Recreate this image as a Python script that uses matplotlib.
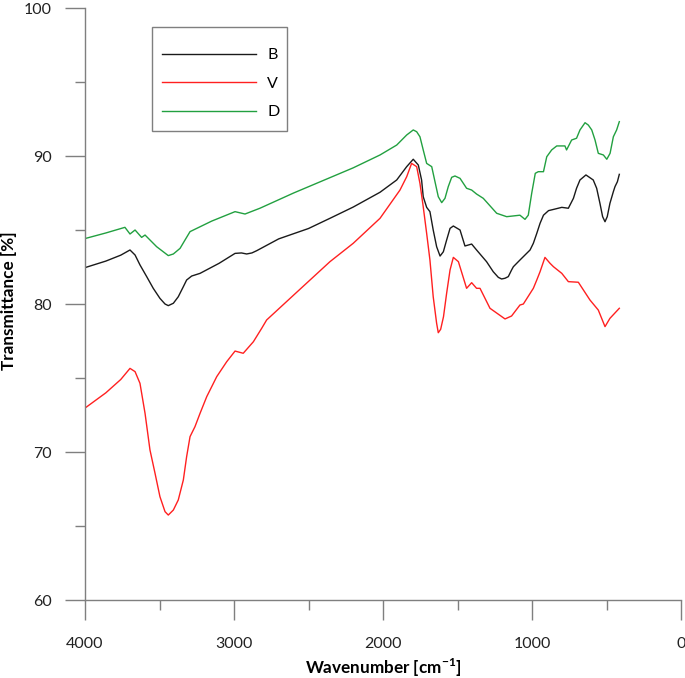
import matplotlib
matplotlib.use("Agg")
import matplotlib.pyplot as plt
from matplotlib.patches import Rectangle
from matplotlib.ticker import MultipleLocator

plt.rcParams['font.family'] = ['Lato', 'DejaVu Sans']

# ---- data ----
wn_B = [4000, 3993, 3860, 3760, 3698, 3664, 3631, 3586, 3542, 3497, 3463, 3441, 3407, 3374, 3340,
        3318, 3284, 3228, 3100, 2993, 2950, 2915, 2880, 2848, 2700, 2500, 2356, 2200, 2020,
        1908, 1841, 1797, 1763, 1741, 1730, 1707, 1685, 1663, 1640, 1617, 1595, 1573, 1550,
        1528, 1483, 1450, 1405, 1372, 1305, 1260, 1226, 1204, 1181, 1159, 1137, 1125, 1081,
        1047, 1013, 991, 968, 946, 923, 889, 856, 800, 756, 722, 701, 678, 638, 589, 566,
        544, 526, 510, 495, 477, 454, 443, 427, 414]
T_B = [82.43, 82.48, 82.9, 83.3, 83.65, 83.31, 82.64, 81.85, 81.06, 80.38, 80.0, 79.89, 80.05, 80.49, 81.17,
       81.62, 81.89, 82.07, 82.75, 83.42, 83.45, 83.38, 83.45, 83.6, 84.4, 85.1, 85.79, 86.55, 87.55,
       88.38, 89.28, 89.78, 89.39, 88.38, 87.25, 86.53, 86.24, 85.0, 83.87, 83.24, 83.53, 84.32, 85.11,
       85.27, 85.0, 83.92, 84.05, 83.65, 82.86, 82.18, 81.8, 81.69, 81.74, 81.85, 82.3, 82.52, 82.97,
       83.31, 83.65, 84.1, 84.77, 85.45, 86.0, 86.31, 86.39, 86.53, 86.47, 87.14, 87.82, 88.38, 88.72, 88.38, 87.82,
       86.8, 85.9, 85.56, 85.9, 86.8, 87.59, 87.93, 88.26, 88.76]

wn_V = [4000, 3993, 3860, 3760, 3698, 3664, 3631, 3597, 3564, 3530, 3497, 3463, 3441, 3407, 3374,
        3340, 3318, 3295, 3262, 3228, 3183, 3116, 3049, 2993, 2938, 2870, 2814, 2781, 2600,
        2356, 2200, 2020, 1886, 1841, 1808, 1774, 1752, 1730, 1707, 1685, 1663, 1640, 1629,
        1613, 1594, 1573, 1550, 1528, 1494, 1439, 1405, 1372, 1349, 1282, 1181, 1137, 1081,
        1058, 991, 968, 946, 913, 879, 856, 800, 756, 689, 611, 555, 510, 477, 414]
T_V = [72.99, 73.02, 74.0, 74.9, 75.65, 75.43, 74.64, 72.61, 70.14, 68.56, 66.98, 65.97, 65.74, 66.08, 66.76,
       68.11, 69.68, 71.04, 71.71, 72.61, 73.74, 75.09, 76.1, 76.82, 76.67, 77.45, 78.36, 78.92, 80.6,
       82.86, 84.1, 85.79, 87.7, 88.6, 89.5, 89.28, 88.15, 86.57, 84.77, 82.97, 80.49, 78.69, 78.06,
       78.29, 79.14, 80.72, 82.3, 83.15, 82.86, 81.06, 81.44, 81.06, 81.06, 79.71, 78.99, 79.19, 79.93,
       80.0, 81.06, 81.62, 82.18, 83.15, 82.75, 82.52, 82.07, 81.51, 81.47, 80.27, 79.59, 78.47, 79.03, 79.71]

wn_D = [4000, 3993, 3860, 3732, 3698, 3664, 3620, 3597, 3519, 3441, 3407, 3362, 3329, 3295, 3150,
        2993, 2926, 2826, 2600, 2367, 2200, 2020, 1908, 1841, 1797, 1774, 1752, 1730, 1707,
        1673, 1651, 1629, 1606, 1584, 1562, 1539, 1517, 1483, 1439, 1405, 1372, 1327, 1237,
        1170, 1125, 1081, 1047, 1025, 1002, 978, 958, 923, 901, 868, 834, 779, 768, 734,
        701, 678, 644, 622, 599, 577, 555, 521, 498, 476, 454, 432, 414]
T_D = [84.46, 84.44, 84.8, 85.18, 84.73, 85.0, 84.5, 84.66, 83.87, 83.27, 83.38, 83.76, 84.32, 84.89, 85.6,
       86.24, 86.08, 86.47, 87.5, 88.49, 89.2, 90.07, 90.74, 91.42, 91.76, 91.64, 91.3, 90.41, 89.5,
       89.28, 88.26, 87.25, 86.85, 87.14, 87.93, 88.56, 88.65, 88.49, 87.82, 87.7, 87.43, 87.14, 86.13,
       85.9, 85.95, 86.0, 85.72, 86.0, 87.48, 88.83, 88.94, 88.94, 89.95, 90.41, 90.68, 90.68, 90.41, 91.08,
       91.2, 91.76, 92.25, 92.09, 91.76, 91.08, 90.18, 90.07, 89.78, 90.18, 91.3, 91.76, 92.32]

labels = ['B', 'V', 'D']
colors = ['#1a1a1a', '#ff2020', '#22a040']

x_ticks = [4000, 3000, 2000, 1000, 0]
y_ticks = [60, 70, 80, 90, 100]

W, H = 685, 678
fig = plt.figure(figsize=(W / 100, H / 100), dpi=100)
ax = fig.add_axes([85 / W, 1 - 600 / H, (681 - 85) / W, (600 - 8) / H])

lines = []
for wn, T, lab, c in zip([wn_B, wn_V, wn_D], [T_B, T_V, T_D], labels, colors):
    ln, = ax.plot(wn, T, color=c, lw=1.0, label=lab, solid_joinstyle='round')
    lines.append(ln)

ax.set_xlim(4000, 0)
ax.set_ylim(60, 100)
ax.set_xticks(x_ticks)
ax.set_yticks(y_ticks)
ax.xaxis.set_minor_locator(MultipleLocator(500))
ax.yaxis.set_minor_locator(MultipleLocator(5))

spine_c = '#7f7f7f'
for s in ['top', 'right']:
    ax.spines[s].set_visible(False)
for s in ['left', 'bottom']:
    ax.spines[s].set_color(spine_c)
    ax.spines[s].set_linewidth(1.0)

ax.tick_params(axis='x', which='major', direction='out', length=14.4, width=1.0,
               color=spine_c, labelsize=11.5, labelcolor='#222222', pad=12)
ax.tick_params(axis='y', which='major', direction='out', length=14.4, width=1.0,
               color=spine_c, labelsize=11.5, labelcolor='#222222', pad=9.5)
ax.tick_params(axis='both', which='minor', direction='out', length=7.2, width=1.0, color=spine_c)

ax.set_xlabel('Wavenumber [cm$^{\\mathregular{-1}}$]', fontsize=12.3, fontweight='bold', labelpad=4)
ax.set_ylabel('Transmittance [%]', fontsize=12.3, fontweight='bold')
ax.yaxis.set_label_coords((17 - 85) / 596, (600 - 301) / 592)

# legend
leg = fig.legend(handles=lines, labels=labels, loc='upper left',
                 bbox_to_anchor=(162 / W, 1 - 48 / H), bbox_transform=fig.transFigure,
                 frameon=False, borderpad=0, borderaxespad=0, fontsize=11.5,
                 handlelength=5.9, handletextpad=0.7, labelspacing=0.9)
fig.patches.append(Rectangle((152 / W, 1 - 131 / H), (287 - 152) / W, (131 - 27) / H,
                             transform=fig.transFigure, fill=False, edgecolor=spine_c, lw=1.0))

fig.savefig('out.png', dpi=100, facecolor='white')
